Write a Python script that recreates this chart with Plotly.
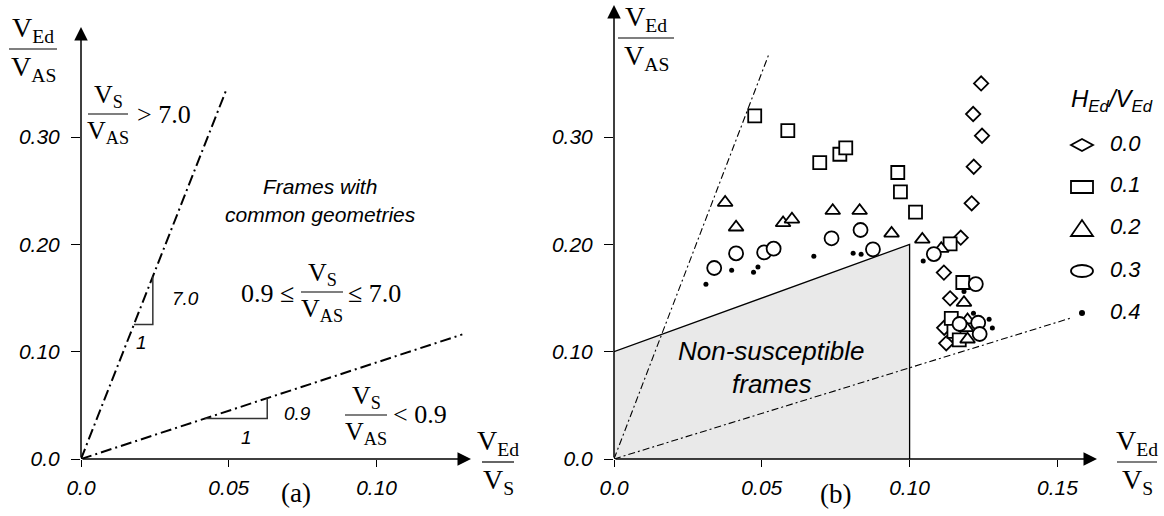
import plotly.graph_objects as go

# ---------------- data ----------------
# Panel (a): bounding ratios V_S / V_AS drawn as rays from the origin
ratio_hi_a = 7.0
ratio_lo_a = 0.9
x_end_hi_a = 0.049
x_end_lo_a = 0.129

# Panel (b): same bounds, plus the non-susceptible region
ratio_hi_b = 7.2
ratio_lo_b = 0.85
x_end_hi_b = 0.0525
x_end_lo_b = 0.1545
region_x = [0.0, 0.0, 0.10, 0.10]
region_y = [0.0, 0.10, 0.20, 0.0]

# Frames grouped by H_Ed / V_Ed  (x = V_Ed/V_S, y = V_Ed/V_AS)
hv_00_x = [0.1242, 0.1215, 0.1245, 0.1217, 0.1210, 0.1173, 0.1116, 0.1137, 0.1117, 0.1124]
hv_00_y = [0.3500, 0.3215, 0.3013, 0.2724, 0.2383, 0.2063, 0.1737, 0.1497, 0.1223, 0.1078]

hv_01_x = [0.0476, 0.0588, 0.0696, 0.0764, 0.0784, 0.0960, 0.0969, 0.1020, 0.1137, 0.1180,
           0.1141, 0.1150, 0.1168]
hv_01_y = [0.3197, 0.3060, 0.2762, 0.2840, 0.2900, 0.2670, 0.2490, 0.2300, 0.2004, 0.1645,
           0.1311, 0.1190, 0.1110]

hv_02_x = [0.0376, 0.0413, 0.0572, 0.0602, 0.0740, 0.0831, 0.0939, 0.1043, 0.1107, 0.1184,
           0.1196, 0.1191, 0.1196]
hv_02_y = [0.2390, 0.2160, 0.2200, 0.2234, 0.2314, 0.2314, 0.2103, 0.2047, 0.1960, 0.1457,
           0.1295, 0.1222, 0.1116]

hv_03_x = [0.0339, 0.0413, 0.0508, 0.0540, 0.0736, 0.0834, 0.0876, 0.1082, 0.1224, 0.1169,
           0.1232, 0.1237]
hv_03_y = [0.1780, 0.1917, 0.1926, 0.1960, 0.2057, 0.2134, 0.1954, 0.1910, 0.1630, 0.1258,
           0.1270, 0.1165]

hv_04_x = [0.0311, 0.0398, 0.0472, 0.0487, 0.0676, 0.0809, 0.0836, 0.1046, 0.1184, 0.1216,
           0.1269, 0.1280]
hv_04_y = [0.1628, 0.1760, 0.1740, 0.1790, 0.1890, 0.1917, 0.1908, 0.1845, 0.1560, 0.1358,
           0.1302, 0.1222]

legend_labels = ["0.0", "0.1", "0.2", "0.3", "0.4"]

x_ticks_a = [0.0, 0.05, 0.10]
x_ticks_b = [0.0, 0.05, 0.10, 0.15]
x_tick_text_a = ["0.0", "0.05", "0.10"]
x_tick_text_b = ["0.0", "0.05", "0.10", "0.15"]
y_ticks = [0.0, 0.10, 0.20, 0.30]
y_tick_text = ["0.0", "0.10", "0.20", "0.30"]

# ---------------- layout helpers ----------------
W, H = 1164, 516
SERIF = "Liberation Serif"
SANS = "Liberation Sans"


def px(x):
    return x / W


def py(y):
    return 1 - y / H


shapes = []
annotations = []


def text(x, y, s, size, family=SANS, italic=False, xanchor="center", yanchor="middle"):
    annotations.append(dict(
        xref="paper", yref="paper", x=px(x), y=py(y), text=s, showarrow=False,
        xanchor=xanchor, yanchor=yanchor, align="center",
        font=dict(family=family, size=size, color="black",
                  style="italic" if italic else "normal")))


def frac(cx, by, num, den, half, size):
    shapes.append(dict(type="line", xref="paper", yref="paper",
                       x0=px(cx - half), x1=px(cx + half), y0=py(by), y1=py(by),
                       line=dict(color="black", width=1.2)))
    annotations.append(dict(xref="paper", yref="paper", x=px(cx), y=py(by), text=num,
                            showarrow=False, xanchor="center", yanchor="bottom",
                            font=dict(family=SERIF, size=size, color="black")))
    annotations.append(dict(xref="paper", yref="paper", x=px(cx), y=py(by), text=den,
                            showarrow=False, xanchor="center", yanchor="top",
                            font=dict(family=SERIF, size=size, color="black")))


VS = "V<sub>S</sub>"
VAS = "V<sub>AS</sub>"
VED = "V<sub>Ed</sub>"

fig = go.Figure()

# ---------------- panel (a) ----------------
line_a = dict(color="black", width=2, dash="11px,4px,2px,4px")
fig.add_trace(go.Scatter(x=[0, x_end_hi_a], y=[0, ratio_hi_a * x_end_hi_a], mode="lines",
                         line=line_a, xaxis="x", yaxis="y", hoverinfo="skip"))
fig.add_trace(go.Scatter(x=[0, x_end_lo_a], y=[0, ratio_lo_a * x_end_lo_a], mode="lines",
                         line=line_a, xaxis="x", yaxis="y", hoverinfo="skip"))

# slope triangles
tri_hi_x0, tri_hi_dx = 0.0179, 0.0064
tri_lo_x0, tri_lo_dx = 0.0420, 0.0210
fig.add_trace(go.Scatter(
    x=[tri_hi_x0, tri_hi_x0 + tri_hi_dx, tri_hi_x0 + tri_hi_dx],
    y=[ratio_hi_a * tri_hi_x0, ratio_hi_a * tri_hi_x0, ratio_hi_a * (tri_hi_x0 + tri_hi_dx)],
    mode="lines", line=dict(color="#333", width=1.5), xaxis="x", yaxis="y", hoverinfo="skip"))
fig.add_trace(go.Scatter(
    x=[tri_lo_x0, tri_lo_x0 + tri_lo_dx, tri_lo_x0 + tri_lo_dx],
    y=[ratio_lo_a * tri_lo_x0, ratio_lo_a * tri_lo_x0, ratio_lo_a * (tri_lo_x0 + tri_lo_dx)],
    mode="lines", line=dict(color="#333", width=1.5), xaxis="x", yaxis="y", hoverinfo="skip"))

# ---------------- panel (b) ----------------
fig.add_trace(go.Scatter(x=region_x, y=region_y, mode="lines", fill="toself",
                         fillcolor="#e9e9e9", line=dict(width=0), xaxis="x2", yaxis="y2",
                         hoverinfo="skip"))
fig.add_trace(go.Scatter(x=region_x[1:], y=region_y[1:], mode="lines",
                         line=dict(color="black", width=1.3), xaxis="x2", yaxis="y2",
                         hoverinfo="skip"))
line_b = dict(color="black", width=1.1, dash="7px,3px,2px,3px")
fig.add_trace(go.Scatter(x=[0, x_end_hi_b], y=[0, ratio_hi_b * x_end_hi_b], mode="lines",
                         line=line_b, xaxis="x2", yaxis="y2", hoverinfo="skip"))
fig.add_trace(go.Scatter(x=[0, x_end_lo_b], y=[0, ratio_lo_b * x_end_lo_b], mode="lines",
                         line=line_b, xaxis="x2", yaxis="y2", hoverinfo="skip"))

groups = [
    (hv_00_x, hv_00_y, "diamond", 11, "white"),
    (hv_01_x, hv_01_y, "square", 13, "white"),
    (hv_02_x, hv_02_y, "triangle-up", 13, "white"),
    (hv_03_x, hv_03_y, "circle", 14, "white"),
    (hv_04_x, hv_04_y, "circle", 5, "black"),
]
for (gx, gy, sym, size, fill), lab in zip(groups, legend_labels):
    fig.add_trace(go.Scatter(
        x=gx, y=gy, mode="markers", name=lab, xaxis="x2", yaxis="y2",
        marker=dict(symbol=sym, size=size, color=fill,
                    line=dict(color="black", width=1.8 if fill == "white" else 0))))

# ---------------- axes ----------------
X_PER_PX = 0.05 / 147.8
Y_PER_PX = 0.10 / 107.3
tickfont = dict(family=SANS, size=21, style="italic", color="black")

common_x = dict(showgrid=False, zeroline=False, showline=False, ticks="outside", ticklen=7,
                tickwidth=1.3, tickcolor="black", tickfont=tickfont, ticklabelstandoff=3,
                fixedrange=True, automargin=False)
common_y = dict(showgrid=False, zeroline=False, showline=False, ticks="outside", ticklen=9,
                tickwidth=1.3, tickcolor="black", tickfont=tickfont, ticklabelstandoff=7,
                tickvals=y_ticks, ticktext=y_tick_text, fixedrange=True, automargin=False)

a_left, a_right, a_top = 81, 471, 27
b_left, b_right, b_top = 614, 1097, 5
bottom = 459

fig.update_layout(
    width=W, height=H, margin=dict(l=0, r=0, t=0, b=0, autoexpand=False),
    paper_bgcolor="white", plot_bgcolor="rgba(0,0,0,0)", showlegend=False,
    xaxis=dict(common_x, domain=[px(a_left), px(a_right)],
               range=[0, (a_right - a_left) * X_PER_PX],
               tickvals=x_ticks_a, ticktext=x_tick_text_a, anchor="y"),
    yaxis=dict(common_y, domain=[py(bottom), py(a_top)],
               range=[0, (bottom - a_top) * Y_PER_PX], anchor="x"),
    xaxis2=dict(common_x, domain=[px(b_left), px(b_right)],
                range=[0, (b_right - b_left) * X_PER_PX],
                tickvals=x_ticks_b, ticktext=x_tick_text_b, anchor="y2"),
    yaxis2=dict(common_y, domain=[py(bottom), py(b_top)],
                range=[0, (bottom - b_top) * Y_PER_PX], anchor="x2"),
)

# axis lines with arrowheads
for xa, ya, xmax, ymax in [("x", "y", (a_right - a_left) * X_PER_PX, (bottom - a_top) * Y_PER_PX),
                           ("x2", "y2", (b_right - b_left) * X_PER_PX, (bottom - b_top) * Y_PER_PX)]:
    for tip in [(xmax, 0), (0, ymax)]:
        annotations.append(dict(
            xref=xa, yref=ya, axref=xa, ayref=ya, x=tip[0], y=tip[1], ax=0, ay=0,
            text="", showarrow=True, arrowhead=2, arrowsize=1.8, arrowwidth=1.5,
            arrowcolor="black", standoff=0, startstandoff=0))

# ---------------- labels, panel (a) ----------------
frac(33, 49, VED, VAS, 24, 28)                  # y-axis title
frac(498, 462, VED, VS, 16, 28)                 # x-axis title
frac(108, 114, VS, VAS, 20, 26)
text(135, 115, "&gt; 7.0", 26, SERIF, xanchor="left")
text(320, 186, "Frames with", 21, SANS, italic=True)
text(320, 214, "common geometries", 21, SANS, italic=True)
text(296, 293, "0.9 ≤", 26, SERIF, xanchor="right")
frac(322, 292, VS, VAS, 21, 26)
text(346, 293, "≤ 7.0", 26, SERIF, xanchor="left")
frac(366, 415, VS, VAS, 21, 26)
text(391, 414, "&lt; 0.9", 26, SERIF, xanchor="left")
text(170, 298, "7.0", 19, SANS, italic=True, xanchor="left")
text(141, 342, "1", 19, SANS, italic=True)
text(282, 413, "0.9", 19, SANS, italic=True, xanchor="left")
text(246, 437, "1", 19, SANS, italic=True)
text(296, 493, "(a)", 27, SERIF)

# ---------------- labels, panel (b) ----------------
frac(646, 38, VED, VAS, 28, 28)
frac(1137, 462, VED, VS, 20, 28)
text(771, 351, "Non-susceptible", 26, SANS, italic=True)
text(771, 384, "frames", 26, SANS, italic=True)
text(835, 494, "(b)", 27, SERIF)

# legend drawn beside the data
text(1112, 100, "H<sub>Ed</sub>/V<sub>Ed</sub>", 24, SANS, italic=True)
leg_rows = [145, 187, 228, 271, 313]
for lab, ry in zip(legend_labels, leg_rows):
    text(1108, ry - 2, lab, 22, SANS, italic=True, xanchor="left")
cx, hw, hh = 1082, 11, 6
sym_line = dict(color="black", width=1.8)
shapes.append(dict(type="path", xref="paper", yref="paper",
                   path=f"M{px(cx-hw)},{py(145)} L{px(cx)},{py(145-hh)} L{px(cx+hw)},{py(145)} "
                        f"L{px(cx)},{py(145+hh)} Z", line=sym_line, fillcolor="white"))
shapes.append(dict(type="rect", xref="paper", yref="paper",
                   x0=px(cx - hw), x1=px(cx + hw), y0=py(187 + hh), y1=py(187 - hh),
                   line=sym_line, fillcolor="white"))
shapes.append(dict(type="path", xref="paper", yref="paper",
                   path=f"M{px(cx-hw)},{py(236)} L{px(cx+hw)},{py(236)} L{px(cx)},{py(220)} Z",
                   line=sym_line, fillcolor="white"))
shapes.append(dict(type="circle", xref="paper", yref="paper",
                   x0=px(cx - hw), x1=px(cx + hw), y0=py(271 + hh), y1=py(271 - hh),
                   line=sym_line, fillcolor="white"))
shapes.append(dict(type="circle", xref="paper", yref="paper",
                   x0=px(cx - 3), x1=px(cx + 3), y0=py(313 + 3), y1=py(313 - 3),
                   line=dict(color="black", width=0), fillcolor="black"))

fig.update_layout(shapes=shapes, annotations=annotations)
fig.write_html("out.html")
